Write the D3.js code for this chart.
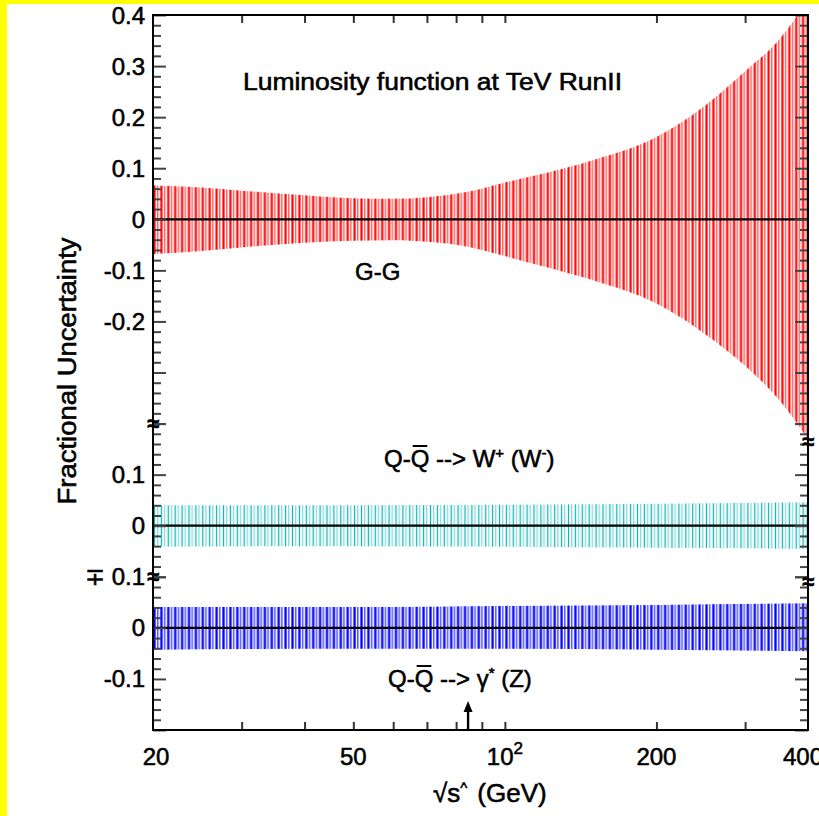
<!DOCTYPE html>
<html>
<head>
<meta charset="utf-8">
<script src="https://cdn.jsdelivr.net/npm/d3@7"></script>
<style>
  html, body { margin: 0; padding: 0; background: #ffff00; }
  svg { display: block; }
  text { font-family: "Liberation Sans", Arial, Helvetica, sans-serif; fill: #000; stroke: #000; stroke-width: 0.55px; }
</style>
</head>
<body>
<svg id="chart" width="819" height="816"></svg>
<script>
// ---- data -------------------------------------------------------------
// sqrt(s-hat) in GeV at which the gluon-gluon band edges are read
const sqrtS   = [20, 25, 30, 40, 50, 60, 70, 80, 90, 100, 120, 150, 200, 250, 300, 350, 400];
const ggUpper = [0.066, 0.062, 0.056, 0.047, 0.041, 0.040, 0.043, 0.050, 0.060, 0.072, 0.090, 0.116, 0.161, 0.223, 0.290, 0.351, 0.430];
const ggLower = [-0.068, -0.062, -0.055, -0.046, -0.042, -0.041, -0.044, -0.050, -0.060, -0.072, -0.093, -0.120, -0.165, -0.225, -0.287, -0.353, -0.430];

// quark-antiquark bands (W and gamma*/Z)
const qqS     = [20, 50, 100, 200, 400];
const wUpper  = [0.040, 0.040, 0.041, 0.043, 0.046];
const wLower  = [-0.041, -0.040, -0.041, -0.043, -0.045];
const zUpper  = [0.041, 0.041, 0.043, 0.045, 0.048];
const zLower  = [-0.043, -0.041, -0.041, -0.043, -0.046];

// axes
const xDomain      = [20, 400];
const xTickValues  = [30, 40, 50, 60, 70, 80, 90, 100, 200, 300];
const xLabelValues = [20, 50, 100, 200, 400];
const xLabelTexts  = ["20", "50", "10|2", "200", "400"];   // "base|exponent"

// y ranges of the three stacked panels (top to bottom)
const panelRanges = [[-0.4, 0.4], [-0.1, 0.2], [-0.2, 0.1]];
const panelLabelValues = [[0.4, 0.3, 0.2, 0.1, 0, -0.1, -0.2], [0.1, 0], [0.1, 0, -0.1]];
const panelLabelTexts  = [["0.4", "0.3", "0.2", "0.1", "0", "-0.1", "-0.2"], ["0.1", "0"], ["\u2213 0.1", "0", "-0.1"]];

const markerMass = 84.5;   // arrow on the x axis

// ---- layout -------------------------------------------------------------
const svg = d3.select("#chart");
const plot = { left: 153, right: 808, top: 15, bottom: 730 };
const tickMinor = 8, tickMajor = 13;

svg.append("rect").attr("x", 7).attr("y", 4).attr("width", 812).attr("height", 812).attr("fill", "#fff");

const x = d3.scaleLog().domain(xDomain).range([plot.left, plot.right]);

const totalSpan = d3.sum(panelRanges, r => r[1] - r[0]);
const unit = (plot.bottom - plot.top) / totalSpan;
let cursor = plot.top;
const yScales = panelRanges.map(r => {
  const h = (r[1] - r[0]) * unit;
  const s = d3.scaleLinear().domain(r).range([cursor + h, cursor]);
  cursor += h;
  return s;
});

const defs = svg.append("defs");
defs.append("clipPath").attr("id", "plotClip")
  .append("rect").attr("x", plot.left).attr("y", plot.top)
  .attr("width", plot.right - plot.left).attr("height", plot.bottom - plot.top);

// dense up/down stroke texture used to fill each uncertainty band
const period = 6.9;
function stripes(id, dark, light, wDark, wLight) {
  const p = defs.append("pattern").attr("id", id)
    .attr("patternUnits", "userSpaceOnUse")
    .attr("x", plot.left).attr("y", 0)
    .attr("width", period).attr("height", 20);
  p.append("line").attr("x1", 1.5).attr("x2", 1.5).attr("y1", 0).attr("y2", 20)
    .attr("stroke", dark).attr("stroke-width", wDark);
  p.append("line").attr("x1", 4.7).attr("x2", 4.7).attr("y1", 0).attr("y2", 20)
    .attr("stroke", light).attr("stroke-width", wLight);
}
stripes("ggFill", "#ff0000", "#ff4d4d", 2.2, 1.3);
stripes("wFill", "#12b4b4", "#6fd2d2", 1.3, 1.1);
stripes("zFill", "#0000ff", "#5a5aff", 2.3, 1.6);

const bands = [
  { s: sqrtS, up: ggUpper, lo: ggLower, y: yScales[0], fill: "url(#ggFill)" },
  { s: qqS,   up: wUpper,  lo: wLower,  y: yScales[1], fill: "url(#wFill)" },
  { s: qqS,   up: zUpper,  lo: zLower,  y: yScales[2], fill: "url(#zFill)" }
];

const bandLayer = svg.append("g").attr("clip-path", "url(#plotClip)");
bands.forEach(b => {
  const rows = b.s.map((s, i) => ({ s, hi: b.up[i], lo: b.lo[i] }));
  const area = d3.area()
    .x(d => x(d.s)).y0(d => b.y(d.lo)).y1(d => b.y(d.hi))
    .curve(d3.curveMonotoneX);
  bandLayer.append("path").datum(rows).attr("d", area).attr("fill", b.fill);
  // zero reference line
  bandLayer.append("line")
    .attr("x1", plot.left).attr("x2", plot.right)
    .attr("y1", b.y(0)).attr("y2", b.y(0))
    .attr("stroke", "#000").attr("stroke-width", 2.2);
});

// ---- y axes (both sides, ticks pointing inward) ---------------------------
function tickValues(r, step) {
  const n = Math.round((r[1] - r[0]) / step);
  return d3.range(n + 1).map(i => +(r[0] + i * step).toFixed(3));
}
yScales.forEach((ys, i) => {
  const r = panelRanges[i];
  const minor = tickValues(r, 0.02).filter(v => Math.abs(v * 10 - Math.round(v * 10)) > 1e-6);
  const major = tickValues(r, 0.1);
  [[d3.axisLeft, plot.left], [d3.axisRight, plot.right]].forEach(([axisFn, xpos]) => {
    [[minor, tickMinor], [major, tickMajor]].forEach(([vals, len]) => {
      const g = svg.append("g").attr("transform", `translate(${xpos},0)`)
        .call(axisFn(ys).tickValues(vals).tickSize(-len).tickFormat(""));
      g.select(".domain").remove();
      g.selectAll(".tick line").attr("stroke", "#444").attr("stroke-width", 2);
    });
  });
  // tick labels
  svg.append("g").selectAll("text")
    .data(panelLabelValues[i])
    .join("text")
    .attr("x", plot.left - 8)
    .attr("y", d => ys(d) + 8.5)
    .attr("text-anchor", "end")
    .attr("font-size", 24)
    .text((d, j) => panelLabelTexts[i][j]);
});

// ---- x axes (bottom with labels, top mirrored) -----------------------------
[[d3.axisBottom, plot.bottom], [d3.axisTop, plot.top]].forEach(([axisFn, ypos]) => {
  const g = svg.append("g").attr("transform", `translate(0,${ypos})`)
    .call(axisFn(x).tickValues(xTickValues).tickSize(-tickMinor).tickFormat(""));
  g.select(".domain").remove();
  g.selectAll(".tick line").attr("stroke", "#333").attr("stroke-width", 2);
});

const xLab = svg.append("g").selectAll("text")
  .data(xLabelValues)
  .join("text")
  .attr("x", (d, i) => x(d) + (i === 0 ? 3 : i === xLabelValues.length - 1 ? -5 : 0))
  .attr("y", 765)
  .attr("text-anchor", "middle")
  .attr("font-size", 24);
xLab.each(function (d, i) {
  const [base, exp] = xLabelTexts[i].split("|");
  const t = d3.select(this);
  t.append("tspan").text(base);
  if (exp) t.append("tspan").attr("dy", -11).attr("font-size", 17).text(exp);
});

// frame
svg.append("rect")
  .attr("x", plot.left).attr("y", plot.top)
  .attr("width", plot.right - plot.left).attr("height", plot.bottom - plot.top)
  .attr("fill", "none").attr("stroke", "#000").attr("stroke-width", 2);

// axis break marks between panels
const breaks = [
  { x: plot.left,  y: yScales[0].range()[0] },
  { x: plot.left,  y: yScales[1].range()[0] },
  { x: plot.right, y: yScales[0].range()[0] + 18 },
  { x: plot.right, y: yScales[1].range()[0] + 5 }
];
svg.append("g").selectAll("text").data(breaks).join("text")
  .attr("x", d => d.x).attr("y", d => d.y + 7)
  .attr("text-anchor", "middle").attr("font-size", 22).attr("font-weight", "bold")
  .text("\u2248");

// arrow marking the boson mass region
const ax = x(markerMass);
svg.append("line").attr("x1", ax).attr("x2", ax).attr("y1", plot.bottom).attr("y2", plot.bottom - 20)
  .attr("stroke", "#000").attr("stroke-width", 2.4);
svg.append("path")
  .attr("d", `M${ax - 4.5},${plot.bottom - 18} L${ax},${plot.bottom - 29} L${ax + 4.5},${plot.bottom - 18} Z`)
  .attr("fill", "#000");

// ---- annotations ---------------------------------------------------------
svg.append("text").attr("x", 243).attr("y", 90).attr("font-size", 23)
  .attr("textLength", 379).attr("lengthAdjust", "spacingAndGlyphs")
  .text("Luminosity function at TeV RunII");

svg.append("text").attr("x", 355).attr("y", 280).attr("font-size", 24).text("G-G");

function qqLabel(xp, yp, parts) {
  const t = svg.append("text").attr("x", xp).attr("y", yp).attr("font-size", 24);
  parts.forEach(p => {
    const ts = t.append("tspan").text(p.s);
    if (p.sup) ts.attr("dy", -9).attr("font-size", 15);
    if (p.back) ts.attr("dy", 9);
  });
  // bar over the second Q (antiquark)
  const e = t.node().getExtentOfChar(2);
  svg.append("line").attr("x1", e.x + 2).attr("x2", e.x + e.width - 2)
    .attr("y1", e.y + 1).attr("y2", e.y + 1)
    .attr("stroke", "#000").attr("stroke-width", 2);
  return t;
}
qqLabel(384, 467, [
  { s: "Q-Q --> W" }, { s: "+", sup: true }, { s: " (W", back: true }, { s: "-", sup: true }, { s: ")", back: true }
]);
qqLabel(388, 687, [
  { s: "Q-Q --> \u03b3" }, { s: "*", sup: true }, { s: " (Z)", back: true }
]);

// axis titles
const xt = svg.append("text").attr("x", 433).attr("y", 802).attr("font-size", 26);
xt.append("tspan").text("\u221as");
xt.append("tspan").attr("dy", -9).attr("font-size", 15).text("^");
xt.append("tspan").attr("dy", 9).attr("dx", 10).text("(GeV)");

svg.append("text")
  .attr("transform", "translate(76,371) rotate(-90)")
  .attr("text-anchor", "middle").attr("font-size", 25)
  .attr("textLength", 267).attr("lengthAdjust", "spacingAndGlyphs")
  .text("Fractional Uncertainty");
</script>
</body>
</html>
